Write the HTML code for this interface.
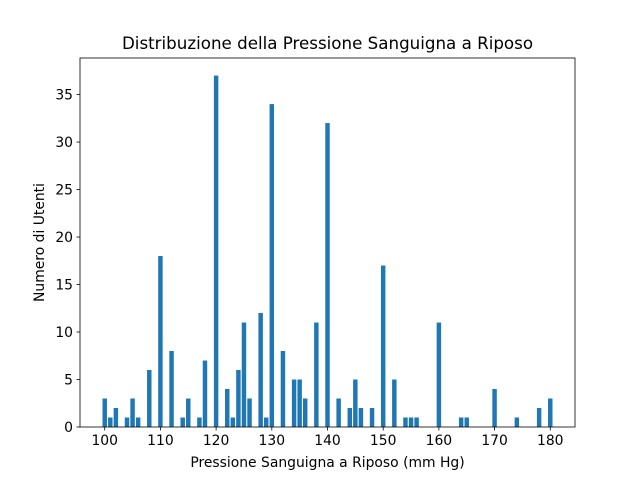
<!DOCTYPE html>
<html><head><meta charset="utf-8"><style>
body{margin:0;background:#fff;}
svg{display:block;font-family:"DejaVu Sans","Liberation Sans",sans-serif;}
</style></head><body>
<svg id="chart" width="640" height="480" xmlns="http://www.w3.org/2000/svg">
<rect width="640" height="480" fill="#fff"/>
<text x="327.5" y="49" text-anchor="middle" font-size="16.7" fill="#000">Distribuzione della Pressione Sanguigna a Riposo</text>
<g id="bars"></g>
<g id="axes"></g>
<text x="327.5" y="467" text-anchor="middle" font-size="13.9" fill="#000">Pressione Sanguigna a Riposo (mm Hg)</text>
<text transform="translate(44,242.5) rotate(-90)" text-anchor="middle" font-size="13.9" fill="#000">Numero di Utenti</text>
</svg>
<script>
const categories=[100,101,102,104,105,106,108,110,112,114,115,117,118,120,122,123,124,125,126,128,129,130,132,134,135,136,138,140,142,144,145,146,148,150,152,154,155,156,160,164,165,170,174,178,180];
const counts=[3,1,2,1,3,1,6,18,8,1,3,1,7,37,4,1,6,11,3,12,1,34,8,5,5,3,11,32,3,2,5,2,2,17,5,1,1,1,11,1,1,4,1,2,3];
const xTicks=[100,110,120,130,140,150,160,170,180];
const yTicks=[0,5,10,15,20,25,30,35];
const L=80,R=575,T=58,B=427;
const xmin0=Math.min(...categories)-0.4,xmax0=Math.max(...categories)+0.4,pad=(xmax0-xmin0)*0.05;
const xmin=xmin0-pad,xmax=xmax0+pad;
const ymax=Math.max(...counts)*1.05;
const xs=v=>L+(v-xmin)/(xmax-xmin)*(R-L);
const ys=v=>B-v/ymax*(B-T);
const NS="http://www.w3.org/2000/svg";
const bars=document.getElementById('bars'),axes=document.getElementById('axes');
function mk(tag,attrs,parent){const e=document.createElementNS(NS,tag);for(const k in attrs)e.setAttribute(k,attrs[k]);parent.appendChild(e);return e;}
categories.forEach((c,i)=>{
 const x0=xs(c-0.4),x1=xs(c+0.4);
 const r=mk('rect',{x:x0,y:ys(counts[i]),width:x1-x0,height:B-ys(counts[i]),fill:'#1f77b4'},bars);
 
 
});
const frame=mk('rect',{x:L,y:T,width:R-L,height:B-T,fill:'none',stroke:'#000','stroke-width':0.8},axes);


xTicks.forEach(t=>{
 const x=xs(t);
 mk('line',{x1:x,x2:x,y1:B,y2:B+3.5,stroke:'#000','stroke-width':0.8},axes);
 const tx=mk('text',{x:x,y:B+18,'text-anchor':'middle','font-size':13.9,fill:'#000'},axes);
 tx.textContent=t;
 
 
});
yTicks.forEach(t=>{
 const y=ys(t);
 mk('line',{x1:L-3.5,x2:L,y1:y,y2:y,stroke:'#000','stroke-width':0.8},axes);
 const tx=mk('text',{x:L-7,y:y+5,'text-anchor':'end','font-size':13.9,fill:'#000'},axes);
 tx.textContent=t;
 
 
});
</script>
</body></html>
